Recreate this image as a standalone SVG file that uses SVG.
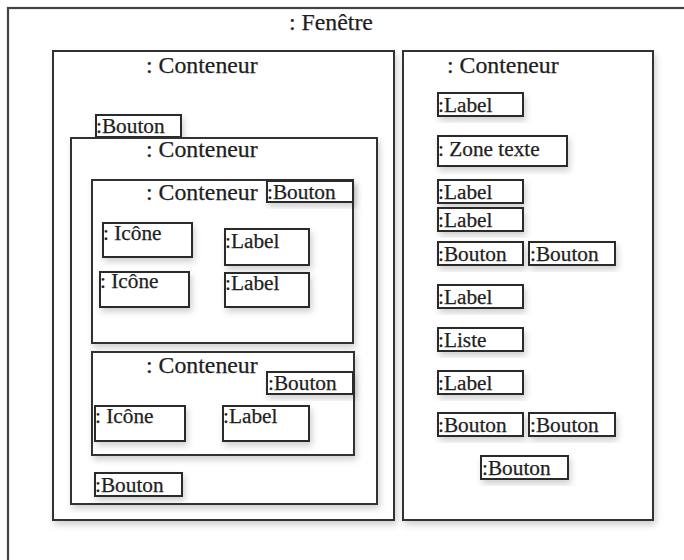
<svg xmlns="http://www.w3.org/2000/svg" width="684" height="560" viewBox="0 0 684 560">
<defs>
<filter id="sh" x="-10%" y="-10%" width="130%" height="140%">
<feDropShadow dx="2" dy="4" stdDeviation="3" flood-color="#000" flood-opacity="0.18"/>
</filter>
<style>
.box{fill:#fff;stroke:#2a2a2a;stroke-width:2;filter:url(#sh)}
.frame{fill:#fff;stroke:#444;stroke-width:2.2}
.cont{fill:#fff;stroke:#333;stroke-width:2;filter:url(#sh)}
.t{font-family:'Liberation Serif','Tinos','DejaVu Serif','Noto Serif',serif;fill:#1e1e1e;stroke:#1e1e1e;stroke-width:0.25}
.title{font-size:23.8px}
.small{font-size:21.3px}
</style>
</defs>
<rect x="0" y="0" width="684" height="560" fill="#fff"/>
<g id="fenetre">
<rect class="frame" x="8" y="8" width="700" height="600"/>
<text class="t title" x="289" y="30">: Fenêtre</text>
</g>
<g id="conteneur-gauche">
<rect class="cont" x="53" y="51" width="341" height="469"/>
<text class="t title" x="146" y="73">: Conteneur</text>
</g>
<g id="bouton-haut">
<rect class="box" x="96" y="115" width="85" height="22"/>
<text class="t small" x="96" y="133">:Bouton</text>
</g>
<g id="conteneur-milieu">
<rect class="cont" x="71" y="138" width="306" height="366"/>
<text class="t title" x="146" y="157">: Conteneur</text>
</g>
<g id="conteneur-1">
<rect class="cont" x="92" y="180" width="261" height="163"/>
<text class="t title" x="146" y="200">: Conteneur</text>
</g>
<g id="bouton-c1">
<rect class="box" x="267" y="181" width="86" height="21"/>
<text class="t small" x="267" y="199">:Bouton</text>
</g>
<g id="icone-1">
<rect class="box" x="103" y="223" width="89" height="34"/>
<text class="t small" x="103" y="240">: Icône</text>
</g>
<g id="label-1">
<rect class="box" x="225" y="229" width="84" height="36"/>
<text class="t small" x="225" y="248">:Label</text>
</g>
<g id="icone-2">
<rect class="box" x="100" y="272" width="89" height="35"/>
<text class="t small" x="100" y="288">: Icône</text>
</g>
<g id="label-2">
<rect class="box" x="225" y="273" width="84" height="34"/>
<text class="t small" x="225" y="290">:Label</text>
</g>
<g id="conteneur-2">
<rect class="cont" x="92" y="352" width="262" height="103"/>
<text class="t title" x="146" y="373">: Conteneur</text>
</g>
<g id="bouton-c2">
<rect class="box" x="267" y="372" width="86" height="22"/>
<text class="t small" x="268" y="390">:Bouton</text>
</g>
<g id="icone-3">
<rect class="box" x="95" y="406" width="90" height="35"/>
<text class="t small" x="95" y="423">: Icône</text>
</g>
<g id="label-3">
<rect class="box" x="223" y="406" width="86" height="35"/>
<text class="t small" x="223" y="423">:Label</text>
</g>
<g id="bouton-bas">
<rect class="box" x="95" y="473" width="87" height="23"/>
<text class="t small" x="95" y="492">:Bouton</text>
</g>
<g id="conteneur-droit">
<rect class="cont" x="403" y="51" width="250" height="469"/>
<text class="t title" x="447" y="73">: Conteneur</text>
</g>
<g id="label-d1">
<rect class="box" x="438" y="93" width="85" height="23"/>
<text class="t small" x="438" y="112">:Label</text>
</g>
<g id="zone-texte">
<rect class="box" x="438" y="136" width="129" height="30"/>
<text class="t small" x="438" y="156">: Zone texte</text>
</g>
<g id="label-d2">
<rect class="box" x="438" y="180" width="85" height="23"/>
<text class="t small" x="438" y="199">:Label</text>
</g>
<g id="label-d3">
<rect class="box" x="438" y="208" width="85" height="23"/>
<text class="t small" x="438" y="227">:Label</text>
</g>
<g id="bouton-d1">
<rect class="box" x="438" y="242" width="85" height="23"/>
<text class="t small" x="438" y="261">:Bouton</text>
</g>
<g id="bouton-d2">
<rect class="box" x="529" y="242" width="86" height="23"/>
<text class="t small" x="530" y="261">:Bouton</text>
</g>
<g id="label-d4">
<rect class="box" x="438" y="285" width="85" height="23"/>
<text class="t small" x="438" y="304">:Label</text>
</g>
<g id="liste">
<rect class="box" x="438" y="328" width="85" height="23"/>
<text class="t small" x="438" y="347">:Liste</text>
</g>
<g id="label-d5">
<rect class="box" x="438" y="371" width="85" height="23"/>
<text class="t small" x="438" y="390">:Label</text>
</g>
<g id="bouton-d3">
<rect class="box" x="438" y="413" width="85" height="23"/>
<text class="t small" x="438" y="432">:Bouton</text>
</g>
<g id="bouton-d4">
<rect class="box" x="529" y="413" width="86" height="23"/>
<text class="t small" x="530" y="432">:Bouton</text>
</g>
<g id="bouton-d5">
<rect class="box" x="481" y="456" width="87" height="23"/>
<text class="t small" x="482" y="475">:Bouton</text>
</g>
<g id="connecteurs"/>
</svg>
